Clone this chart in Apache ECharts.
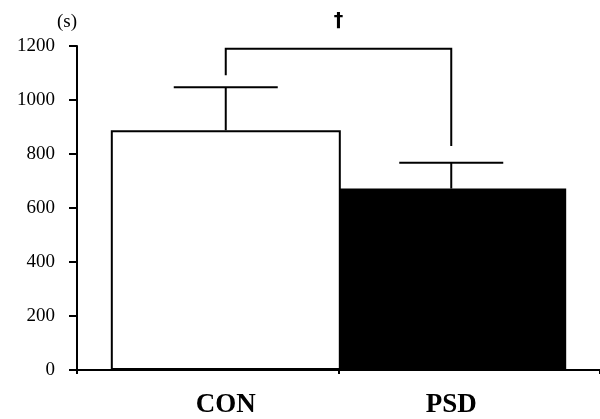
<!DOCTYPE html>
<html>
<head>
<meta charset="utf-8">
<script src="https://cdn.jsdelivr.net/npm/echarts@6/dist/echarts.min.js"></script>
<style>html,body{margin:0;padding:0;background:#fff;}#c{width:600px;height:419px;}</style>
</head>
<body>
<div id="c"></div>
<script>
// ---- data ----
const categories = ['CON', 'PSD'];
const means = [888, 672];
const upperError = [1047, 768];          // mean + SD
const yMin = 0, yMax = 1200, yInterval = 200;
const yUnit = '(s)';
const bracketTop = 1190;
const bracketLegEnds = [1092, 830];
const sigMark = '\u2020';

// ---- style constants ----
const BAR_W = 230;
const SHIFT = 18;       // bars are shifted toward the centre of the axis
const CAP_HALF = 52;
const serif = '"Liberation Serif","Times New Roman",serif';

const chart = echarts.init(document.getElementById('c'), null, {renderer: 'canvas'});

const errData = categories.map((c, i) => [i, means[i], upperError[i]]);

chart.setOption({
  animation: false,
  backgroundColor: '#fff',
  grid: {left: 77, right: -4, top: 46, bottom: 49, containLabel: false},
  xAxis: {
    type: 'category',
    data: categories,
    boundaryGap: true,
    axisLine: {lineStyle: {color: '#000', width: 2}},
    axisTick: {show: true, length: 4, lineStyle: {color: '#000', width: 2}},
    axisLabel: {
      margin: 22,
      formatter: (v, i) => i === 0 ? '{r|' + v + '}' : '{l|' + v + '}',
      rich: {
        r: {fontFamily: serif, fontWeight: 'bold', fontSize: 27, color: '#000', padding: [0, 0, 0, 2 * SHIFT]},
        l: {fontFamily: serif, fontWeight: 'bold', fontSize: 27, color: '#000', padding: [0, 2 * SHIFT, 0, 0]}
      }
    },
    splitLine: {show: false}
  },
  yAxis: {
    type: 'value',
    min: yMin, max: yMax, interval: yInterval,
    name: yUnit,
    nameLocation: 'end',
    nameGap: 24,
    nameTextStyle: {fontFamily: serif, fontSize: 19, color: '#000', align: 'right', verticalAlign: 'middle'},
    axisLine: {show: true, lineStyle: {color: '#000', width: 2}},
    axisTick: {show: true, length: 8, lineStyle: {color: '#000', width: 2}},
    axisLabel: {fontFamily: serif, fontSize: 19, color: '#000', margin: 22, formatter: v => String(v)},
    splitLine: {show: false}
  },
  series: [
    {
      name: 'PSD',
      type: 'bar',
      data: ['-', means[1]],
      barWidth: BAR_W,
      barGap: '-84.3%',
      itemStyle: {color: '#000', borderColor: '#000', borderWidth: 1.5},
      z: 2
    },
    {
      name: 'CON',
      type: 'bar',
      data: [means[0], '-'],
      barWidth: BAR_W,
      itemStyle: {color: '#fff', borderColor: '#000', borderWidth: 2},
      z: 2
    },
    {
      type: 'custom',
      data: errData,
      clip: false,
      z: 3,
      renderItem: function (params, api) {
        const i = api.value(0);
        const p0 = api.coord([i, api.value(1)]);
        const p1 = api.coord([i, api.value(2)]);
        const x = p0[0] + (i === 0 ? SHIFT : -SHIFT);
        return {
          type: 'group',
          children: [
            {type: 'line', shape: {x1: x, y1: p0[1], x2: x, y2: p1[1]}, style: {stroke: '#000', lineWidth: 2}},
            {type: 'line', shape: {x1: x - CAP_HALF, y1: p1[1], x2: x + CAP_HALF, y2: p1[1]}, style: {stroke: '#000', lineWidth: 2}}
          ]
        };
      }
    },
    {
      type: 'custom',
      data: [[0, bracketTop]],
      clip: false,
      z: 3,
      renderItem: function (params, api) {
        const a = api.coord([0, bracketLegEnds[0]]);
        const b = api.coord([1, bracketLegEnds[1]]);
        const top = api.coord([0, api.value(1)])[1];
        const x1 = a[0] + SHIFT, x2 = b[0] - SHIFT;
        return {
          type: 'group',
          children: [
            {type: 'polyline', shape: {points: [[x1, a[1]], [x1, top], [x2, top], [x2, b[1]]]}, style: {stroke: '#000', lineWidth: 2, fill: null}},
            {type: 'text', x: (x1 + x2) / 2, y: top - 28, style: {text: sigMark, fontFamily: '"DejaVu Sans",sans-serif', fontWeight: 'bold', fontSize: 19, fill: '#000', align: 'center', verticalAlign: 'middle'}}
          ]
        };
      }
    }
  ]
});
</script>
</body>
</html>
